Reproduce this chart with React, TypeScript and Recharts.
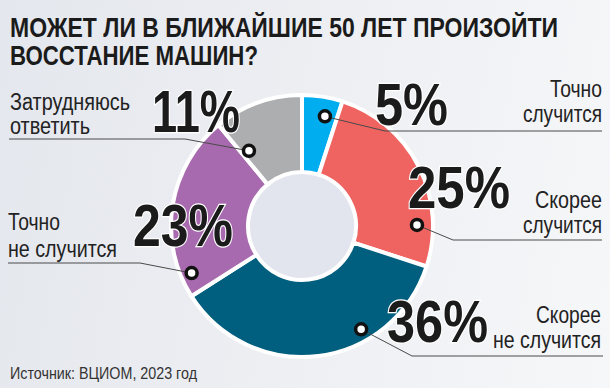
import React from 'react';
import { PieChart, Pie, Cell } from 'recharts';

// Опрос ВЦИОМ, 2023
const answers = ['Точно случится', 'Скорее случится', 'Скорее не случится', 'Точно не случится', 'Затрудняюсь ответить'];
const nameLines = [['Точно', 'случится'], ['Скорее', 'случится'], ['Скорее', 'не случится'], ['Точно', 'не случится'], ['Затрудняюсь', 'ответить']];
const shares = [5, 25, 36, 23, 11];
const colors = ['#00aeef', '#ef6461', '#005f7e', '#a86aae', '#adaeb0'];

const data = answers.map((name, i) => ({ name, value: shares[i] }));

// no narrow face installed, so text is squeezed to the measured widths
const FONT = "'Liberation Sans', Arial, sans-serif";
const W = 610;
const H = 388;

// where each callout sits: dot (angle clockwise from top, radius), big number, caption, leader line
const callouts = [
  { ang: 11.8, r: 112, num: [375, 125, 73], cap: { x: 602, y: [97, 122], w: [52, 79], anchor: 'end' }, leader: [[385, 131], [602, 131]] },
  { ang: 89.5, r: 115, num: [408, 208, 102], cap: { x: 602, y: [208, 233], w: [67, 79], anchor: 'end' }, leader: [[453, 240], [602, 240]] },
  { ang: 150.2, r: 119, num: [387, 342, 101], cap: { x: 601, y: [323, 348], w: [65, 108], anchor: 'end' }, leader: [[412, 356], [603, 356]] },
  { ang: 246.9, r: 120, num: [133, 246, 100], cap: { x: 8, y: [230, 257], w: [52, 109], anchor: 'start' }, leader: [[140, 263], [8, 263]] },
  { ang: 324.8, r: 92, num: [152, 132, 88], cap: { x: 10, y: [110, 134], w: [120, 80], anchor: 'start' }, leader: [[185, 139], [9, 139]] },
];

const renderCallout = (props: any) => {
  const { cx, cy, index } = props;
  const c = callouts[index];
  const a = (c.ang * Math.PI) / 180;
  const dx = cx + c.r * Math.sin(a);
  const dy = cy - c.r * Math.cos(a);
  const pts = [[dx, dy], ...c.leader].map((p) => p.join(',')).join(' ');
  return (
    <g key={`c-${index}`}>
      <polyline points={pts} fill="none" stroke="#4a4a4a" strokeWidth={1} />
      <text
        x={c.num[0]}
        y={c.num[1]}
        textLength={c.num[2]}
        lengthAdjust="spacingAndGlyphs"
        fontFamily={FONT}
        fontWeight="bold"
        fontSize={60}
        fill="#1b1b1b"
        stroke="#fff"
        strokeWidth={2.5}
        paintOrder="stroke"
      >
        {shares[index]}%
      </text>
      {nameLines[index].map((line, k) => (
        <text
          key={k}
          x={c.cap.x}
          y={c.cap.y[k]}
          textAnchor={c.cap.anchor}
          textLength={c.cap.w[k]}
          lengthAdjust="spacingAndGlyphs"
          fontFamily={FONT}
          fontSize={23}
          fill="#222"
        >
          {line}
        </text>
      ))}
      <circle cx={dx} cy={dy} r={5.5} fill="#fff" stroke="#111" strokeWidth={3.5} />
    </g>
  );
};

export default function App() {
  return (
    <div
      style={{
        position: 'absolute',
        left: 0,
        top: 0,
        width: W,
        height: H,
        background: 'linear-gradient(100deg, #e4e7ed 0%, #eceef2 45%, #f6f7f9 100%)',
      }}
    >
      <svg width={W} height={H} style={{ position: 'absolute', left: 0, top: 0 }}>
        <text x={10} y={37} fontFamily={FONT} fontWeight="bold" fontSize={27} fill="#1b1b1b" textLength={548} lengthAdjust="spacingAndGlyphs">
          МОЖЕТ ЛИ В БЛИЖАЙШИЕ 50 ЛЕТ ПРОИЗОЙТИ
        </text>
        <text x={10} y={65} fontFamily={FONT} fontWeight="bold" fontSize={27} fill="#1b1b1b" textLength={248} lengthAdjust="spacingAndGlyphs">
          ВОССТАНИЕ МАШИН?
        </text>
        <text x={10} y={379} fontFamily={FONT} fontSize={16} fill="#333" textLength={187} lengthAdjust="spacingAndGlyphs">
          Источник: ВЦИОМ, 2023 год
        </text>
      </svg>
      <div style={{ position: 'absolute', left: 0, top: 0 }}>
        <PieChart width={W} height={H} margin={{ top: 0, right: 0, bottom: 0, left: 0 }}>
          <Pie
            data={[{ v: 1 }]}
            dataKey="v"
            cx={302}
            cy={226}
            innerRadius={0}
            outerRadius={54}
            fill="#e2e5ee"
            stroke="none"
            isAnimationActive={false}
          />
          <Pie
            data={data}
            dataKey="value"
            nameKey="name"
            cx={302}
            cy={226}
            innerRadius={54}
            outerRadius={131}
            startAngle={90}
            endAngle={-270}
            stroke="#fff"
            strokeWidth={4}
            label={renderCallout}
            labelLine={false}
            isAnimationActive={false}
          >
            {data.map((d, i) => (
              <Cell key={d.name} fill={colors[i]} />
            ))}
          </Pie>
        </PieChart>
      </div>
    </div>
  );
}
